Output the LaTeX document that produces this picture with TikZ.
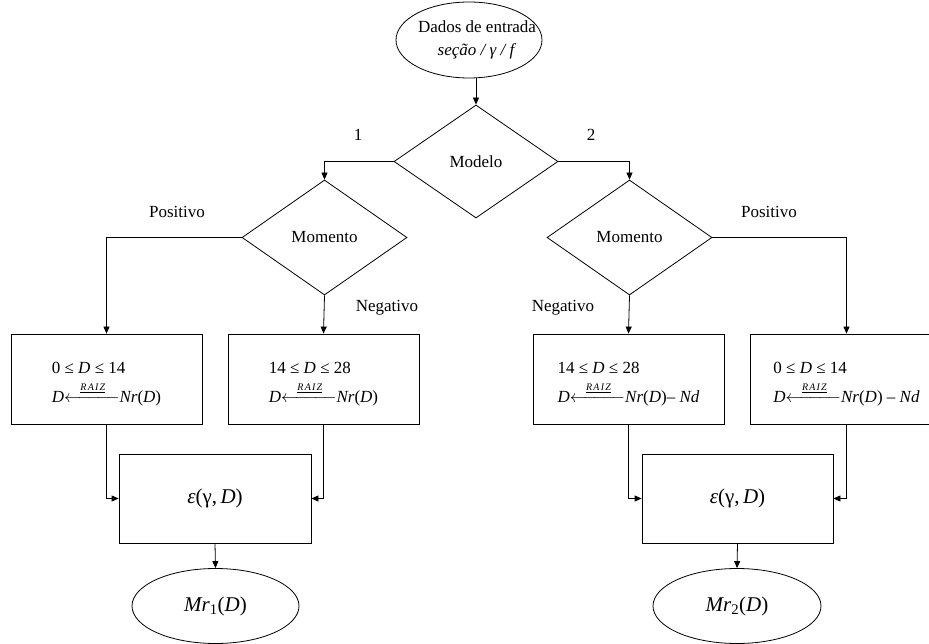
\documentclass[tikz,border=0pt]{standalone}
\usepackage{amsmath}
\usepackage{fontspec}
\setmainfont{Liberation Serif}
\usetikzlibrary{shapes.geometric,arrows.meta}
\newcommand{\raizarrow}{$\xleftarrow{\raisebox{2.5pt}{\makebox[46pt]{\fontsize{10}{10}\selectfont\itshape\underline{R\kern1.2ptA\kern1.2ptI\kern1.2ptZ}}}}$}
\newcommand{\lift}{\rule{0pt}{22pt}}
\tikzset{
  every node/.style={font=\fontsize{17}{20}\selectfont},
  ln/.style={line width=0.8pt, draw=black},
  arr/.style={ln, -{Triangle[length=7pt,width=6pt]}},
  dec/.style={diamond, ln, inner sep=0pt, minimum width=165pt, minimum height=115pt},
  boxn/.style={rectangle, ln, inner sep=0pt, minimum width=191pt, minimum height=90pt, align=left, font=\fontsize{17}{29}\selectfont},
  calc/.style={rectangle, ln, inner sep=0pt, minimum width=192pt, minimum height=89pt, font=\fontsize{21}{24}\selectfont},
  term/.style={ellipse, ln, inner sep=0pt},
  lbl/.style={inner sep=0pt}
}
\begin{document}
\begin{tikzpicture}[x=1pt,y=-1pt]
\useasboundingbox (0,0) rectangle (929,644);
\clip (0,0) rectangle (929,644);

% start
\node[term, minimum width=146pt, minimum height=76pt,
  label={[xshift=8pt, align=center, font=\fontsize{17}{23}\selectfont]center:Dados de entrada\\\textit{seção / γ / f}}] (in) at (469,40) {};

% decisions
\node[dec, minimum width=164pt, minimum height=113pt] (modelo) at (476,161.5) {Modelo};
\node[dec] (mom1) at (324.5,237.5) {Momento};
\node[dec] (mom2) at (629.5,237.5) {Momento};

% boxes
\node[boxn] (b1) at (106.5,379) {\lift 0 ≤ \textit{D} ≤ 14\\\textit{D}\raizarrow\textit{Nr}(\textit{D})};
\node[boxn] (b2) at (323.5,379) {\lift 14 ≤ \textit{D} ≤ 28\\\textit{D}\raizarrow\textit{Nr}(\textit{D})};
\node[boxn] (b3) at (628.5,379) {\lift 14 ≤ \textit{D} ≤ 28\\\textit{D}\raizarrow\textit{Nr}(\textit{D})– \textit{Nd}};
\node[boxn, minimum width=193pt] (b4) at (846.5,379) {\lift 0 ≤ \textit{D} ≤ 14\\\textit{D}\raizarrow\textit{Nr}(\textit{D}) – \textit{Nd}};

% calculation boxes
\node[calc] (e1) at (215,498.5) {\textit{ε}(γ,\,\textit{D})};
\node[calc, minimum width=191pt] (e2) at (737.5,498.5) {\textit{ε}(γ,\,\textit{D})};

% results
\node[term, minimum width=167pt, minimum height=75pt, font=\fontsize{21}{24}\selectfont] (mr1) at (215.5,606) {\textit{Mr}\textsubscript{1}(\textit{D})};
\node[term, minimum width=168pt, minimum height=75pt, font=\fontsize{21}{24}\selectfont] (mr2) at (737,606) {\textit{Mr}\textsubscript{2}(\textit{D})};

% labels
\node[lbl] (l1) at (358,135) {1};
\node[lbl] (l2) at (591,135) {2};
\node[lbl] (p1) at (177,212) {Positivo};
\node[lbl] (n1) at (387,308) {Negativo};
\node[lbl] (p2) at (769,212) {Positivo};
\node[lbl] (n2) at (563,308) {Negativo};

% connectors
\draw[arr] (in.south -| modelo.north) -- (modelo.north);
\draw[arr] (modelo.west) -| (mom1.north);
\draw[arr] (modelo.east) -| (mom2.north);
\draw[arr] (mom1.west) -| (b1.north);
\draw[arr] (mom1.south) -- (b2.north);
\draw[arr] (mom2.south) -- (b3.north);
\draw[arr] (mom2.east) -| (b4.north);
\draw[arr] (b1.south) |- (e1.west);
\draw[arr] (b2.south) |- (e1.east);
\draw[arr] (b3.south) |- (e2.west);
\draw[arr] (b4.south) |- (e2.east);
\draw[arr] (e1.south) -- (mr1.north);
\draw[arr] (e2.south) -- (mr2.north);
\end{tikzpicture}
\end{document}
